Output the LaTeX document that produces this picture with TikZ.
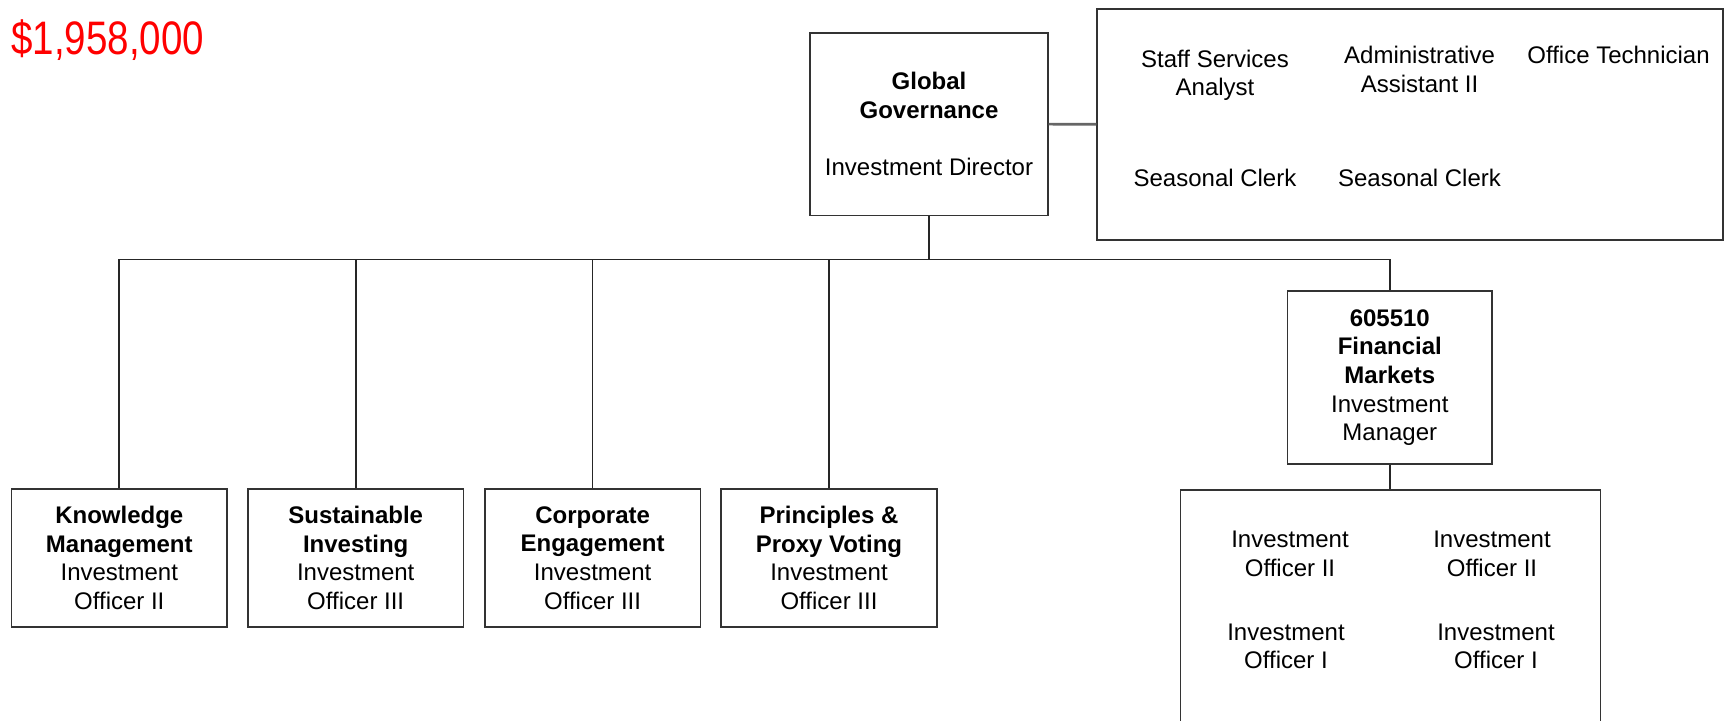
\documentclass[tikz,border=0pt]{standalone}
\usepackage{fontspec}
\setmainfont{Liberation Sans}
\newfontfamily\redfont[FakeStretch=0.82]{Liberation Sans}
\begin{document}
\begin{tikzpicture}[x=0.5pt,y=-0.5pt,
  box/.style={draw=black!80, line width=0.9pt, align=center, inner sep=0pt, font=\fontsize{12}{14.3}\selectfont},
  lbl/.style={align=center, inner sep=0pt, font=\fontsize{12}{14.3}\selectfont},
  link/.style={draw=black!85, line width=0.85pt},
  sidelink/.style={draw=gray!80!black, line width=1.3pt}]
\useasboundingbox (0,0) rectangle (1724,721);
\clip (0,0) rectangle (1724,721);

\node[anchor=base west, inner sep=0pt, text=red, font=\redfont\fontsize{23.5}{28}\selectfont] (budget) at (11,55) {\$1,958,000};

\node[box, minimum width=118.75pt, minimum height=91.25pt] (gg) at (929,124.2)
  {\textbf{Global}\\\textbf{Governance}\\[14.3pt]Investment Director};

\node[box, minimum width=312.85pt, minimum height=115.45pt] (staff) at (1410.15,124.25) {};
\node[lbl] (ssa) at (1215,75.3) {Staff Services\\Analyst};
\node[lbl] (aa2) at (1419.5,69.3) {Administrative\\Assistant II};
\node[lbl] (ot) at (1618.5,55) {Office Technician};
\node[lbl] (sc1) at (1215,178) {Seasonal Clerk};
\node[lbl] (sc2) at (1419.5,178) {Seasonal Clerk};

\node[box, minimum width=107.8pt, minimum height=68.7pt] (km) at (119.3,558)
  {\textbf{Knowledge}\\\textbf{Management}\\Investment\\Officer II};
\node[box, minimum width=107.8pt, minimum height=68.7pt] (si) at (355.7,558)
  {\textbf{Sustainable}\\\textbf{Investing}\\Investment\\Officer III};
\node[box, minimum width=107.8pt, minimum height=68.7pt] (ce) at (592.6,558)
  {\textbf{Corporate}\\\textbf{Engagement}\\Investment\\Officer III};
\node[box, minimum width=107.8pt, minimum height=68.7pt] (pp) at (829,558)
  {\textbf{Principles \&}\\\textbf{Proxy Voting}\\Investment\\Officer III};

\node[box, minimum width=102.25pt, minimum height=86.3pt] (fm) at (1389.8,377.7)
  {\textbf{605510}\\\textbf{Financial}\\\textbf{Markets}\\Investment\\Manager};

\node[box, minimum width=210pt, minimum height=130pt, anchor=north] (br) at (1390.4,489.3) {};
\node[lbl] (io1) at (1290,554) {Investment\\Officer II};
\node[lbl] (io2) at (1492,554) {Investment\\Officer II};
\node[lbl] (io3) at (1286,646.5) {Investment\\Officer I};
\node[lbl] (io4) at (1496,646.5) {Investment\\Officer I};

\coordinate (bus) at (0,259.5);
\draw[link, line width=1.2pt] (gg.south) -- (gg.south |- bus);
\draw[link] (km.north) -- (km.north |- bus) -- (fm.north |- bus) -- (fm.north);
\draw[link] (si.north) -- (si.north |- bus);
\draw[link] (ce.north) -- (ce.north |- bus);
\draw[link] (pp.north) -- (pp.north |- bus);
\draw[link] (fm.south) -- (fm.south |- br.north);
\draw[sidelink] (gg.east) -- (staff.west);
\end{tikzpicture}
\end{document}
